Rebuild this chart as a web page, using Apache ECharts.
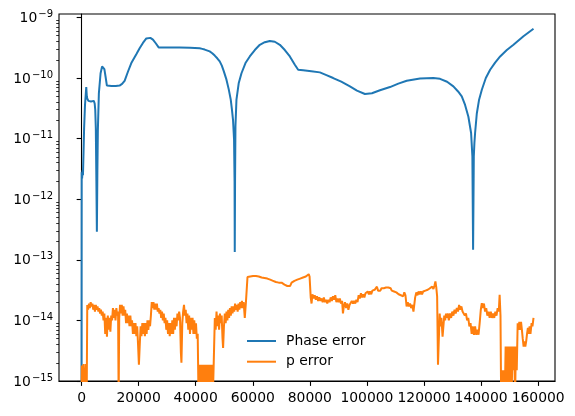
<!DOCTYPE html>
<html>
<head>
<meta charset="utf-8">
<script src="https://cdn.jsdelivr.net/npm/echarts@6/dist/echarts.min.js"></script>
<style>
  html, body { margin: 0; padding: 0; background: #fff; }
  #chart { width: 575px; height: 416px; }
</style>
</head>
<body>
<div id="chart"></div>
<script>
// Phase error (blue): [step, error]
const phaseError = [
  [0, 1e-16], [50, 2.8e-12], [200, 2.2e-12], [350, 3.0e-12], [500, 2.5e-12], [700, 6e-12], [900, 1.5e-11],
  [1200, 3.5e-11], [1650, 7.1e-11], [1850, 5.0e-11], [2000, 4.6e-11], [2400, 4.2e-11], [2800, 4.5e-11],
  [3300, 4.1e-11], [3800, 4.4e-11], [4300, 4.2e-11], [4600, 3.8e-11], [4800, 3.0e-11], [5000, 1.5e-11],
  [5200, 2e-12], [5370, 2.9e-13], [5550, 3e-12], [5720, 1.4e-11], [6070, 5.6e-11], [6670, 1.2e-10],
  [7200, 1.55e-10], [7610, 1.62e-10], [8000, 1.4e-10], [8420, 1.05e-10], [8880, 7.5e-11], [10500, 7.4e-11],
  [12000, 7.4e-11], [13330, 7.5e-11], [14200, 8.0e-11], [15090, 9.0e-11], [16250, 1.27e-10], [17440, 1.77e-10],
  [19190, 2.47e-10], [20350, 3.1e-10], [21510, 3.8e-10], [22700, 4.5e-10], [23260, 4.75e-10], [24100, 4.6e-10],
  [25020, 4.3e-10], [26000, 3.75e-10], [27020, 3.2e-10], [30000, 3.2e-10], [34390, 3.2e-10], [38000, 3.17e-10],
  [41400, 3.1e-10], [42300, 3.03e-10], [43160, 2.95e-10], [44900, 2.75e-10], [45800, 2.57e-10], [46670, 2.35e-10],
  [47550, 2.12e-10], [48420, 1.88e-10], [49150, 1.6e-10], [49830, 1.3e-10], [50780, 9.4e-11], [51580, 6.5e-11],
  [52280, 4.4e-11], [52700, 3.0e-11], [53090, 2.0e-11], [53440, 9.6e-12], [53620, 2e-12], [53690, 1.35e-13],
  [53790, 2e-12], [53930, 1.6e-11], [54280, 4.4e-11], [55090, 8.3e-11], [56040, 1.2e-10], [57440, 1.77e-10],
  [58950, 2.27e-10], [60710, 2.9e-10], [62460, 3.54e-10], [64210, 3.9e-10], [65970, 4.1e-10], [67720, 3.97e-10],
  [69480, 3.54e-10], [71230, 2.9e-10], [72990, 2.27e-10], [74740, 1.66e-10], [75900, 1.37e-10], [77650, 1.35e-10],
  [80500, 1.3e-10], [83510, 1.24e-10], [85800, 1.12e-10], [88180, 1.0e-10], [91000, 8.7e-11], [94040, 7.3e-11],
  [96500, 6.2e-11], [99300, 5.45e-11], [101760, 5.6e-11], [104570, 6.3e-11], [108080, 7.1e-11], [111000, 8.1e-11],
  [113940, 9.0e-11], [118600, 9.8e-11], [123270, 1.0e-10], [125620, 9.7e-11], [128080, 8.7e-11], [130290, 7.3e-11],
  [131940, 6.0e-11], [133230, 5.0e-11], [134390, 3.6e-11], [135550, 2.3e-11], [136500, 1.24e-11], [136950, 5.1e-12],
  [137200, 1.47e-13], [137450, 5.1e-12], [137660, 8.5e-12], [137900, 1.24e-11], [138500, 2.6e-11], [139300, 4.4e-11],
  [140260, 6.4e-11], [141660, 1.0e-10], [143170, 1.37e-10], [144920, 1.8e-10], [146680, 2.27e-10], [149020, 2.9e-10],
  [151350, 3.54e-10], [154850, 4.9e-10], [158370, 6.5e-10]
];

// p error (orange): [step, error]
const pError = [
  [0, 5e-16], [100, 1.8e-15], [350, 5e-16], [700, 1.9e-15], [1050, 5e-16], [1500, 1.9e-15], [1800, 5e-16],
  [2000, 1.8e-14], [2300, 1.5e-14], [2600, 1.9e-14], [2900, 1.6e-14], [3200, 2.0e-14], [3500, 1.7e-14],
  [3800, 1.9e-14], [4100, 1.5e-14], [4400, 1.8e-14], [4700, 1.4e-14], [5000, 1.8e-14], [5300, 1.5e-14],
  [5600, 1.7e-14], [5900, 1.4e-14], [6200, 1.6e-14], [6500, 1.3e-14], [6800, 1.5e-14], [7100, 1.2e-14],
  [7400, 1.4e-14], [7700, 1.0e-14], [8000, 1.3e-14], [8300, 6e-15], [8600, 1.1e-14], [8900, 5.4e-15],
  [9200, 1.2e-14], [9500, 7e-15], [9800, 1.1e-14], [10100, 6.5e-15], [10400, 1.2e-14], [10700, 1.0e-14],
  [11000, 1.6e-14], [11300, 1.1e-14], [11600, 1.5e-14], [11900, 1.0e-14], [12200, 1.6e-14], [12500, 1.2e-14],
  [12800, 1.4e-14], [13000, 5e-16], [13200, 1.1e-14], [13500, 1.8e-14], [13800, 1.3e-14], [14100, 1.8e-14],
  [14400, 1.2e-14], [14700, 1.7e-14], [15000, 1.2e-14], [15300, 1.5e-14], [15600, 9e-15], [15900, 1.3e-14],
  [16200, 9e-15], [16500, 1.2e-14], [16800, 8e-15], [17100, 1.2e-14], [17400, 8e-15], [17700, 1.0e-14],
  [18000, 6e-15], [18300, 9e-15], [18600, 6e-15], [18900, 9e-15], [19200, 5.5e-15], [19500, 8e-15],
  [19800, 4e-15], [20100, 1.86e-15], [20400, 4e-15], [20700, 8e-15], [21000, 5.5e-15], [21300, 9e-15],
  [21600, 6e-15], [21900, 9e-15], [22200, 5.5e-15], [22500, 9e-15], [22800, 6e-15], [23100, 1.0e-14],
  [23400, 7e-15], [23700, 1.0e-14], [24000, 8e-15], [24300, 1.2e-14], [24600, 2.0e-14], [24900, 1.6e-14],
  [25200, 2.0e-14], [25500, 1.5e-14], [25800, 1.9e-14], [26100, 1.5e-14], [26400, 1.9e-14], [26700, 1.4e-14],
  [27000, 1.6e-14], [27300, 1.3e-14], [27600, 1.5e-14], [27900, 1.1e-14], [28200, 1.4e-14], [28500, 1.0e-14],
  [28800, 1.3e-14], [29100, 9e-15], [29400, 1.1e-14], [29700, 7e-15], [30000, 1.0e-14], [30300, 6e-15],
  [30600, 9e-15], [30900, 5.5e-15], [31200, 9e-15], [31500, 6e-15], [31800, 1.0e-14], [32100, 6e-15],
  [32400, 1.1e-14], [32700, 7e-15], [33000, 1.1e-14], [33300, 8e-15], [33600, 1.3e-14], [33900, 1.0e-14],
  [34200, 1.4e-14], [34500, 1.1e-14], [34800, 3e-15], [35000, 2.0e-15], [35300, 9e-15], [35600, 1.4e-14],
  [35900, 1.8e-14], [36200, 1.2e-14], [36500, 1.5e-14], [36800, 9e-15], [37100, 1.3e-14], [37400, 7e-15],
  [37700, 1.2e-14], [38000, 6e-15], [38300, 1.1e-14], [38600, 7e-15], [38900, 1.1e-14], [39200, 6e-15],
  [39500, 1.0e-14], [39800, 6e-15], [40100, 9e-15], [40400, 5e-15], [40700, 6e-15], [41000, 5e-16],
  [41400, 1.86e-15], [41800, 5e-16], [42100, 1.86e-15], [42500, 5e-16], [42800, 1.86e-15], [43200, 5e-16],
  [43500, 1.86e-15], [43900, 5e-16], [44200, 1.86e-15], [44600, 5e-16], [44900, 1.86e-15], [45300, 5e-16],
  [45600, 1.86e-15], [46000, 5e-16], [46300, 1.86e-15], [46700, 1.1e-14], [47000, 7e-15], [47300, 1.4e-14],
  [47600, 8e-15], [47900, 1.2e-14], [48200, 7e-15], [48500, 1.3e-14], [48800, 9e-15], [49100, 1.2e-14],
  [49400, 5e-15], [49600, 3.5e-15], [49900, 8e-15], [50200, 1.3e-14], [50500, 9e-15], [50800, 1.4e-14],
  [51100, 1.0e-14], [51400, 1.5e-14], [51700, 1.1e-14], [52000, 1.6e-14], [52300, 1.2e-14], [52600, 1.7e-14],
  [52900, 1.3e-14], [53200, 1.7e-14], [53500, 1.4e-14], [53800, 1.9e-14], [54100, 1.5e-14], [54400, 1.8e-14],
  [54700, 1.4e-14], [55000, 1.9e-14], [55300, 1.5e-14], [55600, 2.0e-14], [55900, 1.6e-14], [56200, 2.1e-14],
  [56500, 1.6e-14], [56800, 2.0e-14], [57200, 1.1e-14], [57600, 2.0e-14], [58150, 5.2e-14], [58600, 5.6e-14],
  [59100, 5.3e-14], [59600, 5.7e-14], [60100, 5.4e-14], [60600, 5.8e-14], [61100, 5.4e-14], [61600, 5.7e-14],
  [62100, 5.3e-14], [62600, 5.5e-14], [63100, 5.1e-14], [63600, 5.4e-14], [64100, 5.0e-14], [64600, 5.2e-14],
  [65100, 4.9e-14], [65600, 5.1e-14], [66100, 4.7e-14], [66600, 4.9e-14], [67100, 4.5e-14], [67600, 4.7e-14],
  [68100, 4.3e-14], [68600, 4.6e-14], [69100, 4.2e-14], [69600, 4.5e-14], [70100, 4.2e-14], [70600, 4.4e-14],
  [71100, 3.9e-14], [71600, 4.1e-14], [72100, 3.7e-14], [72600, 3.9e-14], [73100, 3.7e-14], [73600, 4.2e-14],
  [74100, 4.0e-14], [74600, 4.5e-14], [75100, 4.3e-14], [75600, 4.7e-14], [76100, 4.5e-14], [76600, 4.9e-14],
  [77100, 4.7e-14], [77600, 5.1e-14], [78100, 4.9e-14], [78600, 5.3e-14], [79100, 5.1e-14], [79600, 5.8e-14],
  [79900, 5.3e-14], [80300, 2.4e-14], [80600, 1.9e-14], [80900, 2.7e-14], [81300, 2.3e-14], [81700, 2.6e-14],
  [82100, 2.2e-14], [82500, 2.5e-14], [82900, 2.1e-14], [83300, 2.4e-14], [83700, 2.1e-14], [84100, 2.3e-14],
  [84500, 2.0e-14], [84900, 2.4e-14], [85300, 2.0e-14], [85700, 2.2e-14], [86100, 1.9e-14], [86500, 2.2e-14],
  [86900, 2.0e-14], [87300, 2.4e-14], [87700, 2.1e-14], [88100, 2.5e-14], [88500, 2.2e-14], [88900, 2.6e-14],
  [89300, 2.0e-14], [89700, 2.3e-14], [90100, 2.0e-14], [90500, 2.3e-14], [90900, 1.9e-14], [91300, 2.1e-14],
  [91600, 1.3e-14], [91900, 1.7e-14], [92300, 2.0e-14], [92700, 1.6e-14], [93100, 1.9e-14], [93500, 1.5e-14],
  [93900, 1.8e-14], [94300, 1.7e-14], [94700, 2.1e-14], [95100, 1.9e-14], [95500, 2.1e-14], [95900, 1.9e-14],
  [96300, 2.2e-14], [96700, 2.0e-14], [97100, 2.6e-14], [97500, 2.3e-14], [97900, 2.8e-14], [98300, 2.4e-14],
  [98700, 2.7e-14], [99100, 2.4e-14], [99500, 2.8e-14], [99900, 2.6e-14], [100300, 3.0e-14], [100700, 2.7e-14],
  [101100, 3.0e-14], [101500, 2.7e-14], [101900, 3.1e-14], [102300, 2.9e-14], [102700, 3.2e-14], [103100, 3.0e-14],
  [103500, 3.6e-14], [103900, 3.1e-14], [104300, 3.3e-14], [104700, 3.1e-14], [105100, 3.4e-14], [105500, 3.2e-14],
  [105900, 3.4e-14], [106300, 3.2e-14], [106700, 3.5e-14], [107100, 3.3e-14], [107500, 3.5e-14], [107900, 3.3e-14],
  [108300, 3.4e-14], [108700, 3.1e-14], [109100, 3.3e-14], [109500, 3.0e-14], [109900, 3.2e-14], [110300, 2.9e-14],
  [110700, 3.0e-14], [111100, 2.7e-14], [111500, 2.9e-14], [111900, 2.6e-14], [112300, 2.8e-14], [112700, 2.5e-14],
  [113100, 2.9e-14], [113500, 2.6e-14], [113900, 1.7e-14], [114300, 2.0e-14], [114700, 1.7e-14], [115100, 1.9e-14],
  [115500, 1.6e-14], [115900, 1.8e-14], [116300, 1.4e-14], [116600, 1.3e-14], [116900, 2.4e-14], [117300, 2.9e-14],
  [117700, 2.6e-14], [118100, 3.0e-14], [118500, 2.7e-14], [118900, 3.0e-14], [119300, 2.7e-14], [119700, 3.0e-14],
  [120100, 2.8e-14], [120500, 3.1e-14], [120900, 2.9e-14], [121300, 3.2e-14], [121700, 3.0e-14], [122100, 3.4e-14],
  [122500, 3.2e-14], [122900, 3.6e-14], [123300, 3.3e-14], [123700, 3.8e-14], [124000, 4.4e-14], [124300, 3.5e-14],
  [124600, 2.5e-14], [124900, 1.86e-15], [125200, 5e-15], [125500, 1.3e-14], [125800, 8e-15], [126100, 1.1e-14],
  [126500, 5.4e-15], [126800, 8e-15], [127100, 1.2e-14], [127400, 1.0e-14], [127700, 1.3e-14], [128000, 1.1e-14],
  [128300, 1.3e-14], [128700, 1.0e-14], [129100, 1.3e-14], [129500, 1.1e-14], [129900, 1.4e-14], [130300, 1.2e-14],
  [130700, 1.5e-14], [131100, 1.3e-14], [131500, 1.6e-14], [131900, 1.4e-14], [132300, 1.8e-14], [132700, 1.5e-14],
  [133100, 1.7e-14], [133500, 1.4e-14], [133900, 1.5e-14], [134300, 1.2e-14], [134700, 1.3e-14], [135100, 1.0e-14],
  [135500, 1.1e-14], [135900, 8e-15], [136300, 9e-15], [136700, 6e-15], [137100, 8e-15], [137500, 5.8e-15],
  [137900, 8e-15], [138300, 5.8e-15], [138700, 7e-15], [139100, 5.8e-15], [139500, 9e-15], [139900, 1.5e-14],
  [140250, 1.93e-14], [140600, 1.6e-14], [141000, 1.9e-14], [141400, 1.4e-14], [141800, 1.6e-14], [142200, 1.2e-14],
  [142600, 1.4e-14], [143000, 1.1e-14], [143400, 1.4e-14], [143800, 1.1e-14], [144200, 1.3e-14], [144600, 1.1e-14],
  [145000, 1.4e-14], [145400, 1.2e-14], [145800, 1.6e-14], [146200, 1.4e-14], [146500, 2.65e-14], [146800, 1.2e-14],
  [147030, 5e-16], [147400, 1.5e-15], [147700, 5e-16], [148000, 1.5e-15], [148300, 5e-16], [148600, 3.7e-15],
  [148900, 5e-16], [149200, 3.7e-15], [149500, 5e-16], [149800, 3.7e-15], [150100, 5e-16], [150400, 3.7e-15],
  [150700, 5e-16], [151000, 3.7e-15], [151300, 1.5e-15], [151600, 3.7e-15], [151900, 5e-16], [152200, 3.7e-15],
  [152500, 1.5e-15], [152820, 9e-15], [153100, 7e-15], [153400, 9.5e-15], [153700, 7e-15], [154000, 9.5e-15],
  [154300, 7e-15], [154600, 5e-15], [154900, 3.7e-15], [155200, 4.5e-15], [155500, 3.7e-15], [155800, 4.5e-15],
  [156100, 6e-15], [156400, 7.5e-15], [156700, 6e-15], [157000, 8e-15], [157300, 6e-15], [157700, 9e-15],
  [158000, 8e-15], [158370, 1.1e-14]
];

// axes
const xTicks = [0, 20000, 40000, 60000, 80000, 100000, 120000, 140000, 160000];
const yExponents = [-15, -14, -13, -12, -11, -10, -9];
const yMin = 1e-15, yMax = 1.14e-9;
const xMin = -7900, xMax = 165900;

const yMajor = yExponents.map(e => Math.pow(10, e));
const yMinor = [];
yExponents.forEach(e => {
  for (let k = 2; k <= 9; k++) {
    const v = k * Math.pow(10, e);
    if (v < yMax) yMinor.push(v);
  }
});

const font = 'DejaVu Sans';

const chart = echarts.init(document.getElementById('chart'), null, { renderer: 'canvas' });
chart.setOption({
  animation: false,
  backgroundColor: '#fff',
  grid: { left: 59, right: 20, top: 14, bottom: 35, show: true, borderColor: '#000', borderWidth: 1.1, backgroundColor: 'transparent' },
  legend: {
    orient: 'vertical',
    left: 247,
    top: 333,
    padding: 0,
    icon: 'rect',
    itemWidth: 29,
    itemHeight: 2,
    itemGap: 4.7,
    textStyle: { fontFamily: font, fontSize: 13.9, color: '#000', lineHeight: 16, padding: [0, 0, 0, 5] },
    data: ['Phase error', 'p error']
  },
  xAxis: {
    type: 'value',
    min: xMin,
    max: xMax,
    axisLine: { show: true, onZero: false, lineStyle: { color: '#000', width: 1.1 } },
    axisTick: { show: true, customValues: xTicks, length: 4.9, lineStyle: { color: '#000', width: 1.1 } },
    axisLabel: {
      customValues: xTicks, hideOverlap: false, formatter: v => String(v),
      fontFamily: font, fontSize: 13.9, color: '#000', margin: 10
    },
    splitLine: { show: false }
  },
  yAxis: [{
    type: 'log',
    logBase: 10,
    min: yMin,
    max: yMax,
    axisLine: { show: true, lineStyle: { color: '#000', width: 1.1 } },
    axisTick: { show: true, customValues: yMajor, length: 4.9, lineStyle: { color: '#000', width: 1.1 } },
    axisLabel: {
      customValues: yMajor,
      margin: 6,
      formatter: v => {
        const e = Math.round(Math.log10(v));
        return '{b|10}{s|' + (e < 0 ? '\u2212' + (-e) : e) + '}';
      },
      rich: {
        b: { fontFamily: font, fontSize: 13.9, color: '#000', lineHeight: 16, verticalAlign: 'bottom' },
        s: { fontFamily: font, fontSize: 10, color: '#000', lineHeight: 16, verticalAlign: 'top', padding: [0, 0, 0, 1] }
      }
    },
    splitLine: { show: false }
  }, {
    type: 'log',
    logBase: 10,
    min: yMin,
    max: yMax,
    position: 'left',
    axisLine: { show: false },
    axisTick: { show: true, customValues: yMinor, length: 2.8, lineStyle: { color: '#000', width: 0.8 } },
    axisLabel: { show: false },
    splitLine: { show: false }
  }],
  series: [{
    name: 'Phase error',
    type: 'line',
    data: phaseError,
    yAxisIndex: 0,
    symbol: 'none',
    clip: true,
    lineStyle: { color: '#1f77b4', width: 2 },
    itemStyle: { color: '#1f77b4' }
  }, {
    name: 'p error',
    type: 'line',
    data: pError,
    yAxisIndex: 0,
    symbol: 'none',
    clip: true,
    lineStyle: { color: '#ff7f0e', width: 2 },
    itemStyle: { color: '#ff7f0e' }
  }]
});
</script>
</body>
</html>
